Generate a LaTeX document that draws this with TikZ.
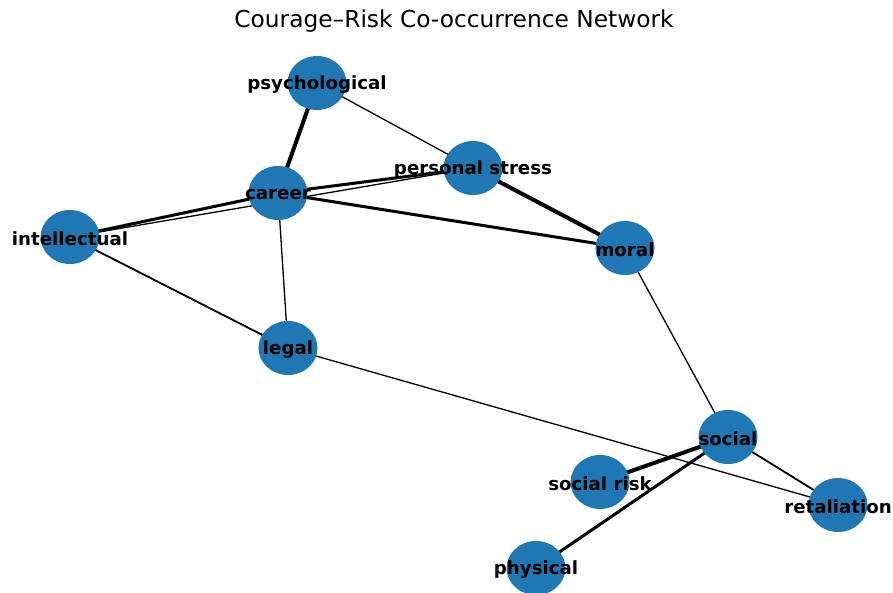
\documentclass[tikz,border=0pt]{standalone}
\usepackage{fontspec}
\setmainfont{DejaVu Sans}
\usepackage{xcolor}
\usepackage{tikz}
\usetikzlibrary{shapes.geometric, backgrounds}

\definecolor{nodeblue}{HTML}{1F77B4}

\begin{document}
\begin{tikzpicture}[
    x=1pt, y=-1pt,
    vert/.style={ellipse, fill=nodeblue, minimum width=59pt, minimum height=54pt, inner sep=0pt},
    lbl/.style={font=\fontsize{18.2}{20}\selectfont\bfseries, inner sep=0pt, yshift=-1.5pt},
    thin/.style={line width=1.3pt},
    mid/.style={line width=1.8pt},
    thick/.style={line width=3pt},
    heavy/.style={line width=4pt}
]
\useasboundingbox (0,0) rectangle (893,593);

\node (title) at (454,21) {\fontsize{23.3}{26}\selectfont Courage--Risk Co-occurrence Network};

\node (psych) [vert, label={[lbl]center:psychological}] at (317,83) {};
\node (stress) [vert, label={[lbl]center:personal stress}] at (473,168) {};
\node (career) [vert, label={[lbl]center:career}] at (278,193) {};
\node (intel) [vert, label={[lbl]center:intellectual}] at (70,237) {};
\node (moral) [vert, label={[lbl]center:moral}] at (625,248) {};
\node (legal) [vert, label={[lbl]center:legal}] at (288,348) {};
\node (social) [vert, label={[lbl]center:social}] at (728,437) {};
\node (srisk) [vert, label={[lbl]center:social risk}] at (600,482) {};
\node (retal) [vert, label={[lbl]center:retaliation}] at (838,505) {};
\node (phys) [vert, label={[lbl]center:physical}] at (536,568) {};

\begin{pgfonlayer}{background}
\draw [heavy] (psych.center) -- (career.center);
\draw [thin] (psych.center) -- (stress.center);
\draw [thick] (career.center) -- (stress.center);
\draw [thick] (career.center) -- (intel.center);
\draw [thin] (intel.center) -- (stress.center);
\draw [thick] (career.center) -- (moral.center);
\draw [heavy] (stress.center) -- (moral.center);
\draw [thin] (career.center) -- (legal.center);
\draw [mid] (intel.center) -- (legal.center);
\draw [thin] (legal.center) -- (retal.center);
\draw [thin] (moral.center) -- (social.center);
\draw [heavy] (social.center) -- (srisk.center);
\draw [thick] (social.center) -- (phys.center);
\draw [mid] (social.center) -- (retal.center);
\end{pgfonlayer}

\end{tikzpicture}
\end{document}
